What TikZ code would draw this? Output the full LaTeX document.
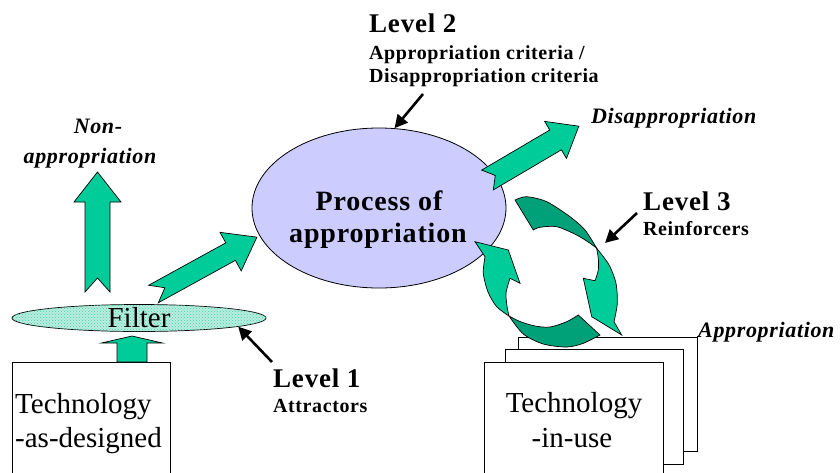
\documentclass[tikz,border=0pt]{standalone}
\usepackage{fontspec}
\setmainfont{Liberation Serif}
\newfontfamily\spc[LetterSpace=3]{Liberation Serif}
\usetikzlibrary{shapes.geometric,arrows.meta,patterns}
\definecolor{agreen}{RGB}{0,204,153}
\definecolor{dgreen}{RGB}{0,160,120}
\definecolor{lav}{RGB}{204,204,255}
\definecolor{mint}{RGB}{190,236,222}
\newcommand\blockarr[8]{%
  \begin{scope}[shift={(#1,#2)},rotate=#3]
    \filldraw[blk] (0,-#5) -- ({#4-#7},-#5) -- ({#4-#7},-#6) -- (#4,0) -- ({#4-#7},#6) -- ({#4-#7},#5) -- (0,#5) -- (#8,0) -- cycle;
  \end{scope}}
\begin{document}
\begin{tikzpicture}[x=1pt,y=-1pt,
  blk/.style={fill=agreen,draw=black,line width=0.7pt,line join=miter},
  cyc/.style={draw=black,line width=0.7pt,line join=miter},
  box/.style={draw=black,line width=0.8pt,fill=white},
  pointer/.style={draw=black,line width=2.6pt,-{Triangle[length=13pt,width=13pt]}},
  lvl/.style={font=\spc\bfseries\fontsize{27}{30}\selectfont,inner sep=0pt,anchor=base west},
  sublbl/.style={font=\spc\bfseries\fontsize{20}{24}\selectfont,inner sep=0pt,anchor=base west},
  outc/.style={font=\spc\bfseries\itshape\fontsize{22}{26}\selectfont,inner sep=0pt},
  proctxt/.style={font=\spc\bfseries\fontsize{28}{32}\selectfont,inner sep=0pt,anchor=base},
  plain/.style={font=\fontsize{29}{34}\selectfont,inner sep=0pt}]
\useasboundingbox (0,0) rectangle (840,472);

% boxes
\draw[box] (12,362) rectangle (170,480);
\draw[box] (518,337) rectangle (697,451);
\draw[box] (505,349) rectangle (683,464);
\draw[box] (484,362) rectangle (663,480);

% block arrows
\blockarr{97.5}{292}{90}{120}{12.5}{23.5}{30}{14}
\blockarr{153.5}{294}{28.8}{118}{10}{22}{30}{13}
\blockarr{132}{362}{90}{26}{15}{30.5}{7}{0}

% process ellipse
\node[ellipse,draw=black,line width=0.8pt,fill=lav,minimum width=254pt,minimum height=160pt,inner sep=0pt] (proc) at (379,208) {};
\node[proctxt] (proc1) at (379,210) {Process of};
\node[proctxt] (proc2) at (378,242) {appropriation};

\blockarr{487.5}{180}{30.5}{106}{11.5}{21.5}{27}{9}

% filter
\node[ellipse,draw=black,line width=0.7pt,fill=mint,postaction={pattern=crosshatch dots,pattern color=agreen!80},minimum width=254pt,minimum height=27pt,inner sep=0pt] (filter) at (139,318) {};
\node[plain,anchor=base] (filtertxt) at (139,327) {Filter};

% cycle arrows
\filldraw[cyc,fill=dgreen] (515,200) -- plot[smooth] coordinates {(515,200) (526.7,196.7) (546.7,201.7) (570,216.7) (585,230) (596.5,248)} -- plot[smooth] coordinates {(596.5,248) (590,243.3) (576.7,235) (556.7,226.7) (540,227.3) (533.3,230)} -- cycle;
\filldraw[cyc,fill=agreen] plot[smooth] coordinates {(596.5,248) (603.3,256.7) (610,266.7) (616,283.3) (617.3,303.3) (614,321.7)} -- (621.7,335) -- (591.7,316.7) -- (583.3,278.3) -- plot[smooth] coordinates {(595,280.7) (598.3,270) (598.3,258.3) (596.5,248)} -- cycle;
\filldraw[cyc,fill=dgreen] plot[smooth] coordinates {(600,335) (583.3,343.3) (566.7,347) (543.3,344) (523.3,334) (509,316)} -- plot[smooth] coordinates {(509,316) (520,321.5) (535,326) (550,327) (566.7,321.7) (578.3,315)} -- cycle;
\filldraw[cyc,fill=agreen] plot[smooth] coordinates {(509,316) (496.7,306.7) (488,292) (483.3,273.3) (485,256.7)} -- (475,241.7) -- (508.3,250) -- (520,283.3) -- plot[smooth] coordinates {(510,278.3) (506,293.3) (507.3,308.3) (509,316)} -- cycle;

% texts
\node[plain,anchor=base west] (tad1) at (15,413) {Technology};
\node[plain,anchor=base west] (tad2) at (15,447) {-as-designed};
\node[plain,anchor=base] (tiu1) at (574,412) {Technology};
\node[plain,anchor=base] (tiu2) at (572,447) {-in-use};

\node[outc,anchor=base] (non1) at (98,133) {Non-};
\node[outc,anchor=base] (non2) at (90,163) {appropriation};
\node[outc,anchor=base west] (disap) at (591,123) {Disappropriation};
\node[outc,anchor=base west] (approp) at (698,337) {Appropriation};

\node[lvl] (lev2) at (369,32) {Level 2};
\node[sublbl] (lev2a) at (369,59) {Appropriation criteria /};
\node[sublbl] (lev2b) at (369,82) {Disappropriation criteria};
\node[lvl] (lev1) at (273,387) {Level 1};
\node[sublbl] (lev1a) at (273,412) {Attractors};
\node[lvl] (lev3) at (643,210) {Level 3};
\node[sublbl] (lev3a) at (643,235) {Reinforcers};

% pointers
\coordinate (p2) at (423,94);
\coordinate (p1) at (272,362);
\coordinate (p3) at (637,213);
\coordinate (t3) at (605,243);
\draw[pointer] (p2) -- (proc.79);
\draw[pointer] (p1) -- (filter.-5);
\draw[pointer] (p3) -- (t3);
\end{tikzpicture}
\end{document}
